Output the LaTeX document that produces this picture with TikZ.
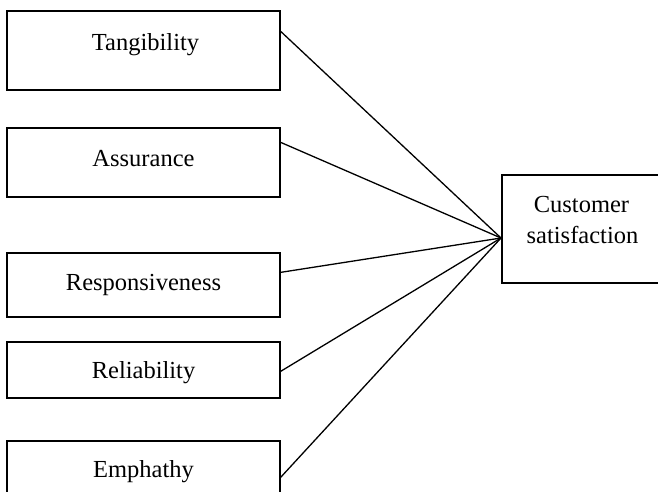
\documentclass[tikz,border=0pt]{standalone}
\usepackage{fontspec}
\setmainfont{Liberation Serif}
\begin{document}
\begin{tikzpicture}[x=1pt,y=-1pt,
  box/.style={draw, line width=1.3pt, inner sep=0pt},
  txt/.style={anchor=base, inner sep=0pt, font=\fontsize{24.5}{28}\selectfont},
  conn/.style={line width=1.3pt}]
\useasboundingbox (0,0) rectangle (658,491);
\clip (0,0) rectangle (658,491);
% boxes
\node[box, minimum width=273pt, minimum height=79pt] (tang) at (143.5,50.5) {};
\node[box, minimum width=273pt, minimum height=69pt] (assu) at (143.5,162.5) {};
\node[box, minimum width=273pt, minimum height=64pt] (resp) at (143.5,285) {};
\node[box, minimum width=273pt, minimum height=56pt] (reli) at (143.5,370) {};
\node[box, minimum width=273pt, minimum height=80pt] (emph) at (143.5,481) {};
\node[box, minimum width=163pt, minimum height=108pt] (cust) at (583.5,229) {};
% texts
\node[txt] (tangt) at (145.5,50) {Tangibility};
\node[txt] (assut) at (143.5,166) {Assurance};
\node[txt] (respt) at (143.5,290) {Responsiveness};
\node[txt] (relit) at (143.5,378) {Reliability};
\node[txt] (empht) at (143.5,477) {Emphathy};
\node[txt] (custt1) at (581.5,212) {Customer};
\node[txt] (custt2) at (582.5,243) {satisfaction};
% connectors
\coordinate (hub) at (501,238);
\draw[conn] ([yshift=-21pt]tang.north east) -- (hub);
\draw[conn] ([yshift=-15pt]assu.north east) -- (hub);
\draw[conn] ([yshift=-20pt]resp.north east) -- (hub);
\draw[conn] ([yshift=-30pt]reli.north east) -- (hub);
\draw[conn] ([yshift=-37pt]emph.north east) -- (hub);
\end{tikzpicture}
\end{document}
